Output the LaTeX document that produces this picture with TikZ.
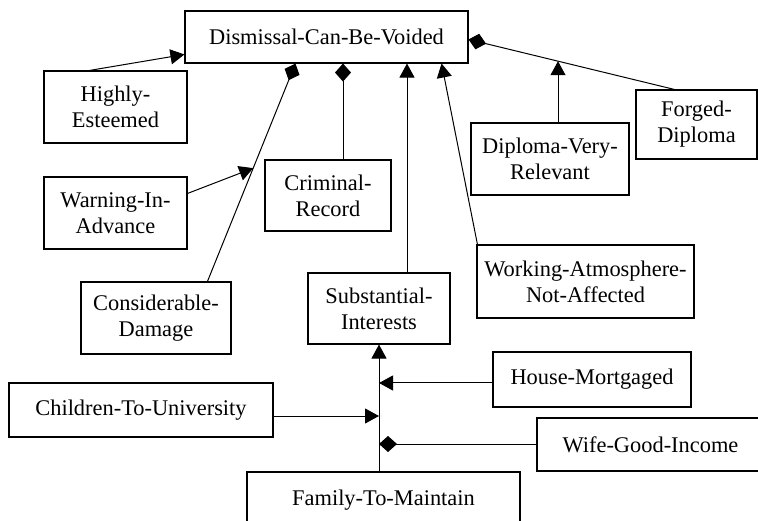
\documentclass[tikz,border=0pt]{standalone}
\usepackage{fontspec}
\setmainfont{Liberation Serif}
\usetikzlibrary{arrows.meta,calc}
\tikzset{
  box/.style={draw, line width=1.1pt, inner sep=0pt, align=center,
    font=\fontsize{22.4}{26}\selectfont},
  conn/.style={line width=1pt},
  tri/.style={conn, -{Triangle[length=14pt,width=15pt]}},
  dia/.style={conn, -{Diamond[length=18pt,width=16pt]}}
}
\begin{document}
\begin{tikzpicture}[x=1pt,y=-1pt]
\useasboundingbox (0,0) rectangle (758,521);
\clip (0,0) rectangle (758,521);
% nodes
\node[box, minimum width=283, minimum height=52] (dis) at (326.5,37) {Dismissal-Can-Be-Voided};
\node[box, minimum width=143, minimum height=72] (high) at (115.5,107) {Highly-\\Esteemed};
\node[box, minimum width=143, minimum height=72] (warn) at (115.5,213) {Warning-In-\\Advance};
\node[box, minimum width=126, minimum height=71] (crim) at (328,195.5) {Criminal-\\Record};
\node[box, minimum width=150, minimum height=72] (cons) at (156,318) {Considerable-\\Damage};
\node[box, minimum width=142, minimum height=71] (sub) at (379,308.5) {Substantial-\\Interests};
\node[box, minimum width=264, minimum height=54] (child) at (141,410) {Children-To-University};
\node[box, minimum width=273, minimum height=56] (fam) at (383.5,500) {Family-To-Maintain};
\node[box, minimum width=217, minimum height=73] (work) at (585.5,281.5) {Working-Atmosphere-\\Not-Affected};
\node[box, minimum width=198, minimum height=55] (house) at (592,379.5) {House-Mortgaged};
\node[box, minimum width=227, minimum height=53] (wife) at (650.5,444.5) {Wife-Good-Income};
\node[box, minimum width=158, minimum height=72] (dip) at (550,159) {Diploma-Very-\\Relevant};
\node[box, minimum width=121, minimum height=69] (forg) at (696.5,124.5) {Forged-\\Diploma};
% attachment points
\coordinate (cdS) at ($(cons.north west)+(127,0)$);
\coordinate (cdE) at ($(dis.south west)+(111,0)$);
\path (cdS) -- (cdE) coordinate[pos=0.52] (wj);
\coordinate (fgS) at ($(forg.north west)+(39,0)$);
\coordinate (fgE) at ($(dis.north east)+(0,29)$);
\path (fgS) -- (fgE) coordinate[pos=0.565] (dj);
\coordinate (dipT) at ($(dip.north)+(8,0)$);
\coordinate (crimT) at ($(crim.north)+(15,0)$);
\coordinate (subT) at ($(sub.north)+(28,0)$);
\coordinate (childE) at ($(child.east)+(0,6)$);
\coordinate (houseW) at ($(house.west)+(0,3.5)$);
\coordinate (wifeW) at ($(wife.west)+(0,-0.5)$);
% connectors
\draw[tri] ($(high.north west)+(46,0)$) -- ($(dis.north west)+(0,44)$);
\draw[dia] (cdS) -- (cdE);
\draw[tri] ($(warn.north east)+(0,17)$) -- (wj);
\draw[dia] (crimT) -- (crimT |- dis.south);
\draw[tri] (subT) -- (subT |- dis.south);
\draw[tri] ($(work.north west)+(1,0)$) -- ($(dis.south east)+(-27,0)$);
\draw[dia] (fgS) -- (fgE);
\draw[tri] (dipT) -- (dipT |- dj);
\draw[tri] (sub.south |- fam.north) -- (sub.south);
\draw[tri] (childE) -- (sub.south |- childE);
\draw[tri] (houseW) -- (sub.south |- houseW);
\draw[dia] (wifeW) -- (sub.south |- wifeW);
\end{tikzpicture}
\end{document}
